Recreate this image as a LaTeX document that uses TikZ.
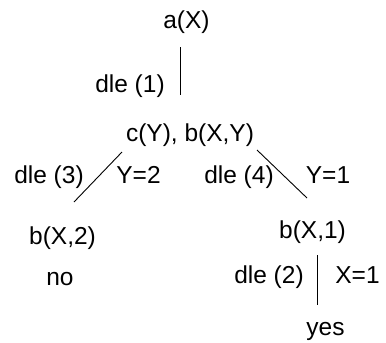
\documentclass[tikz,border=0pt]{standalone}
\usepackage{fontspec}
\setmainfont{Liberation Sans}
\begin{document}
\begin{tikzpicture}[x=1pt,y=-1pt,
  lbl/.style={anchor=base,inner sep=0pt,font=\fontsize{24.5}{28}\selectfont},
  edge/.style={draw=black,line width=0.9pt}]
\useasboundingbox (0,0) rectangle (386,343);
\node[lbl] (a) at (186.5,28) {a(X)};
\node[lbl] (d1) at (130,92) {dle (1)};
\node[lbl] (c) at (190,141) {c(Y), b(X,Y)};
\node[lbl] (d3) at (49,183) {dle (3)};
\node[lbl] (y2) at (138.5,183) {Y=2};
\node[lbl] (d4) at (239,183) {dle (4)};
\node[lbl] (y1) at (328,183) {Y=1};
\node[lbl] (b2) at (62.5,244) {b(X,2)};
\node[lbl] (b1) at (312.5,238) {b(X,1)};
\node[lbl] (no) at (60,285) {no};
\node[lbl] (d2) at (269,283) {dle (2)};
\node[lbl] (x1) at (357.5,283) {X=1};
\node[lbl] (yes) at (325.5,335) {yes};
\coordinate (e1a) at (180,47);
\coordinate (e1b) at (180,95);
\coordinate (e3a) at (122,152);
\coordinate (e3b) at (74,202);
\coordinate (e4a) at (257,150);
\coordinate (e4b) at (307,198);
\coordinate (e2a) at (317,255);
\coordinate (e2b) at (317,305);
\draw[edge] (e1a) -- (e1b);
\draw[edge] (e3a) -- (e3b);
\draw[edge] (e4a) -- (e4b);
\draw[edge] (e2a) -- (e2b);
\end{tikzpicture}
\end{document}
